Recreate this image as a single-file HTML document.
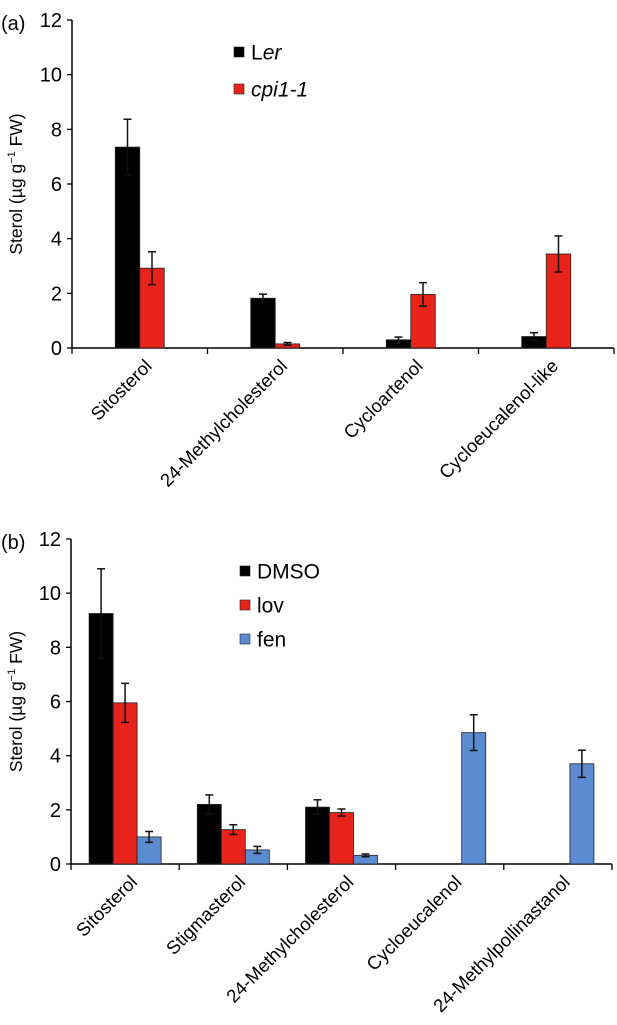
<!DOCTYPE html>
<html><head><meta charset="utf-8">
<style>
body{margin:0;background:#fff;}
svg{display:block;font-family:"Liberation Sans",Arial,sans-serif;}
</style></head>
<body>
<svg id="fig" width="617" height="1025" viewBox="0 0 617 1025"></svg>
<script>
// Panel (a) data
const catsA = ["Sitosterol","24-Methylcholesterol","Cycloartenol","Cycloeucalenol-like"];
const lerVals = [7.35,1.82,0.3,0.42];
const lerErr = [1.02,0.15,0.1,0.14];
const cpiVals = [2.92,0.15,1.96,3.44];
const cpiErr = [0.6,0.05,0.43,0.66];
// Panel (b) data
const catsB = ["Sitosterol","Stigmasterol","24-Methylcholesterol","Cycloeucalenol","24-Methylpollinastanol"];
const dmsoVals = [9.25,2.2,2.1,0,0];
const dmsoErr = [1.65,0.35,0.27,0,0];
const lovVals = [5.95,1.27,1.9,0,0];
const lovErr = [0.72,0.18,0.13,0,0];
const fenVals = [1.0,0.52,0.32,4.85,3.7];
const fenErr = [0.2,0.13,0.05,0.66,0.5];
const yTicks = [0,2,4,6,8,10,12];

const NS="http://www.w3.org/2000/svg";
const svg=document.getElementById('fig');
function mk(tag,attrs,parent){const e=document.createElementNS(NS,tag);for(const k in attrs)e.setAttribute(k,attrs[k]);(parent||svg).appendChild(e);return e;}

function panel(opt){
  const g=mk('g',{});
  
  
  const x0=opt.x0,x1=opt.x1,yb=opt.y0,yt=opt.y12;
  const yS=v=>yb-(v/12)*(yb-yt);
  const n=opt.cats.length, cw=(x1-x0)/n;
  const xC=i=>x0+cw*(i+0.5);
  const ya=mk('line',{x1:x0,y1:yt,x2:x0,y2:yb,stroke:'#000','stroke-width':1.5},g);
  
  const xa=mk('line',{x1:x0,y1:yb,x2:x1,y2:yb,stroke:'#000','stroke-width':1.5},g);
  
  yTicks.forEach(t=>{
    mk('line',{x1:x0-5,y1:yS(t),x2:x0,y2:yS(t),stroke:'#000','stroke-width':1.3},g);
    const tl=mk('text',{x:x0-10,y:yS(t)+7,'text-anchor':'end','font-size':20},g);
    tl.textContent=t;
    
  });
  for(let i=0;i<=n;i++){mk('line',{x1:x0+cw*i,y1:yb,x2:x0+cw*i,y2:yb+6,stroke:'#000','stroke-width':1.3},g);}
  const ns=opt.series.length, bw=opt.bw;
  opt.cats.forEach((c,i)=>{
    opt.series.forEach((s,j)=>{
      const v=s.vals[i];
      const bx=xC(i)-ns*bw/2+j*bw;
      if(v>0){
        const r=mk('rect',{x:bx,y:yS(v),width:bw,height:yb-yS(v),fill:s.color,stroke:'#222','stroke-width':0.8},g);
        
        const e=s.err[i];
        if(e>0){
          const cx=bx+bw/2;
          mk('line',{x1:cx,y1:yS(v+e),x2:cx,y2:yS(v-e),stroke:'#111','stroke-width':1.5},g);
          mk('line',{x1:cx-4,y1:yS(v+e),x2:cx+4,y2:yS(v+e),stroke:'#111','stroke-width':1.5},g);
          mk('line',{x1:cx-4,y1:yS(v-e),x2:cx+4,y2:yS(v-e),stroke:'#111','stroke-width':1.5},g);
        }
      }
    });
    const lx=xC(i)+4, ly=yb+10;
    const t=mk('text',{x:lx,y:ly,'text-anchor':'end','font-size':18.5,transform:`rotate(-45 ${lx} ${ly})`,dy:'0.7em'},g);
    t.textContent=c;
    
  });
  const cy=(yb+yt)/2;
  const yt2=mk('text',{x:22,y:cy,'text-anchor':'middle','font-size':17.5,transform:`rotate(-90 22 ${cy})`},g);
  yt2.innerHTML='Sterol (µg g<tspan dy="-7" font-size="11">−1</tspan><tspan dy="7"> FW)</tspan>';
  
  const pl=mk('text',{x:1,y:yt+10,'font-size':20},g);
  pl.textContent=opt.label;
  
  opt.series.forEach((s,j)=>{
    const ly=opt.legY+j*opt.legStep;
    const lg=mk('g',{},g);
    
    mk('rect',{x:opt.legX,y:ly-5,width:10,height:10,fill:s.color,stroke:'#222','stroke-width':0.6},lg);
    const tx=mk('text',{x:opt.legX+17,y:ly+7.5,'font-size':21},lg);
    tx.innerHTML=s.label;
  });
}

panel({name:'panel-a',label:'(a)',x0:72,x1:614,y0:348,y12:20,bw:24.5,cats:catsA,legX:234,legY:52,legStep:37,
  series:[{key:'ler',label:'L<tspan font-style="italic">er</tspan>',color:'#000',vals:lerVals,err:lerErr},
          {key:'cpi1-1',label:'<tspan font-style="italic">cpi1-1</tspan>',color:'#e8231c',vals:cpiVals,err:cpiErr}]});
panel({name:'panel-b',label:'(b)',x0:71,x1:612,y0:864,y12:539,bw:24,cats:catsB,legX:240,legY:571,legStep:34,
  series:[{key:'dmso',label:'DMSO',color:'#000',vals:dmsoVals,err:dmsoErr},
          {key:'lov',label:'lov',color:'#e8231c',vals:lovVals,err:lovErr},
          {key:'fen',label:'fen',color:'#5b8bd0',vals:fenVals,err:fenErr}]});
</script>
</body></html>
